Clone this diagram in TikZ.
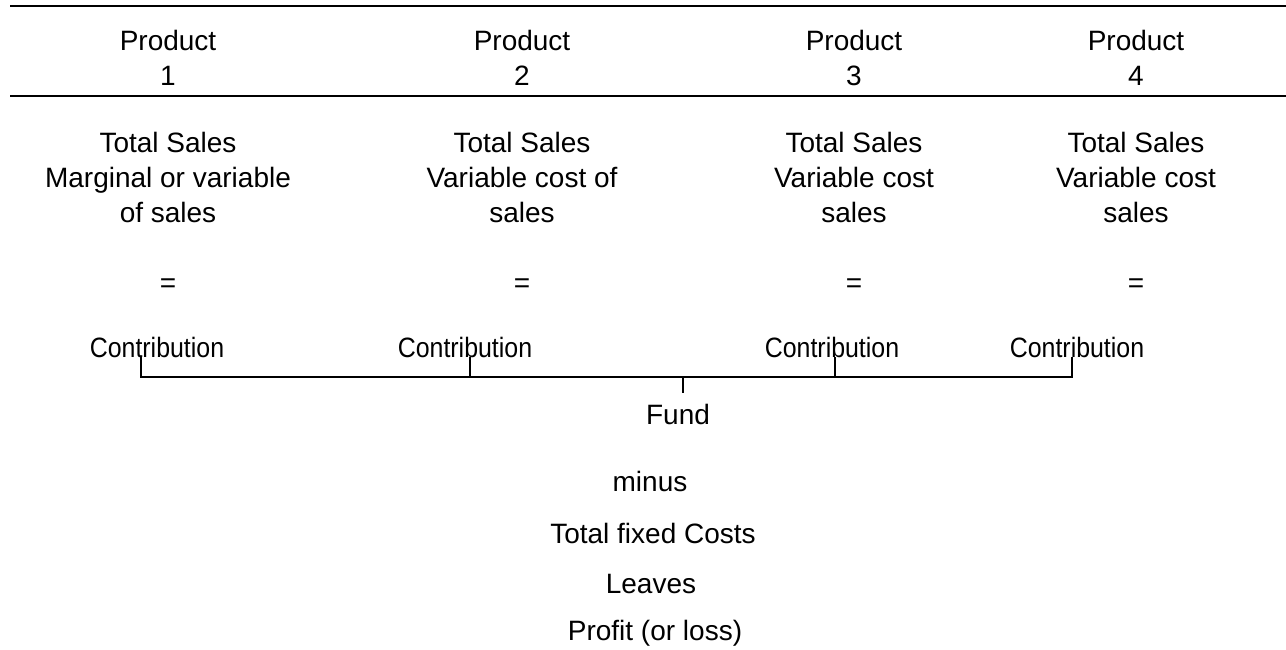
\documentclass[tikz,border=0pt]{standalone}
\usepackage{fontspec}
\setmainfont{Liberation Sans}
\begin{document}
\begin{tikzpicture}[x=1pt,y=-1pt,
  txt/.style={anchor=base,inner sep=0pt,font=\fontsize{28}{34}\selectfont},
  rule/.style={line width=2pt},
  brk/.style={line width=2.2pt}]
\useasboundingbox (0,0) rectangle (1286,649);
% horizontal rules
\coordinate (r1a) at (10,6); \coordinate (r1b) at (1286,6);
\coordinate (r2a) at (10,95.5); \coordinate (r2b) at (1286,95.5);
\draw[rule] (r1a) -- (r1b);
\draw[rule] (r2a) -- (r2b);
% headers
\foreach \n/\x in {1/168,2/522,3/854,4/1136}{
  \node[txt] (p\n) at (\x,50) {Product};
  \node[txt] (n\n) at (\x,85) {\n};
  \node[txt] (e\n) at (\x,292) {=};
}
% bodies
\node[txt] (a1) at (168,152) {Total Sales};
\node[txt] (b1) at (168,187) {Marginal or variable};
\node[txt] (c1) at (168,222) {of sales};
\node[txt] (a2) at (522,152) {Total Sales};
\node[txt] (b2) at (522,187) {Variable cost of};
\node[txt] (c2) at (522,222) {sales};
\node[txt] (a3) at (854,152) {Total Sales};
\node[txt] (b3) at (854,187) {Variable cost};
\node[txt] (c3) at (854,222) {sales};
\node[txt] (a4) at (1136,152) {Total Sales};
\node[txt] (b4) at (1136,187) {Variable cost};
\node[txt] (c4) at (1136,222) {sales};
% contributions
\node[txt] (k1) at (157,357) {\scalebox{0.89}[1]{Contribution}};
\node[txt] (k2) at (465,357) {\scalebox{0.89}[1]{Contribution}};
\node[txt] (k3) at (832,357) {\scalebox{0.89}[1]{Contribution}};
\node[txt] (k4) at (1077,357) {\scalebox{0.89}[1]{Contribution}};
% bracket
\coordinate (t1) at (141,357); \coordinate (t2) at (470,357);
\coordinate (t3) at (835,357); \coordinate (t4) at (1072,357);
\coordinate (h1) at (141,377); \coordinate (h4) at (1072,377);
\coordinate (ft) at (683,377); \coordinate (fb) at (683,393);
\draw[brk] (t1) -- (h1) -- (h4) -- (t4);
\draw[brk] (t2) -- (t2|-h1);
\draw[brk] (t3) -- (t3|-h1);
\draw[brk] (ft) -- (fb);
% bottom
\node[txt] (fund) at (678,424) {Fund};
\node[txt] (minus) at (650,491) {minus};
\node[txt] (tfc) at (653,543) {Total fixed Costs};
\node[txt] (lv) at (651,593) {Leaves};
\node[txt] (pl) at (655,640) {Profit (or loss)};
\end{tikzpicture}
\end{document}
